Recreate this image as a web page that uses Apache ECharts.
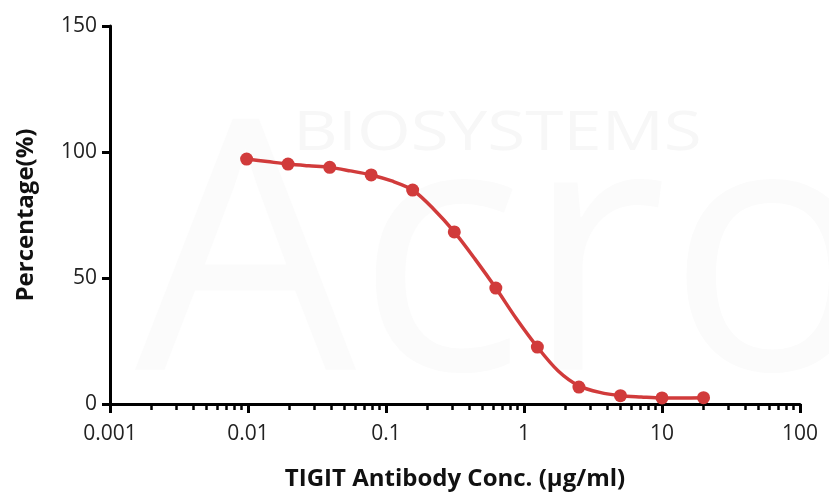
<!DOCTYPE html>
<html>
<head>
<meta charset="utf-8">
<script src="https://cdn.jsdelivr.net/npm/echarts@6/dist/echarts.min.js"></script>
<style>html,body{margin:0;padding:0;background:#fff;}#c{width:829px;height:496px;}</style>
</head>
<body>
<div id="c"></div>
<script>
// measured data points
const concentrations = [0.00977, 0.0195, 0.0391, 0.0781, 0.156, 0.3125, 0.625, 1.25, 2.5, 5, 10, 20];
const percentages = [97.2, 95.2, 93.9, 90.9, 84.9, 68.3, 46.0, 22.6, 6.7, 3.3, 2.4, 2.5];
// fitted curve
const curveConc = [0.00977, 0.0138, 0.0195, 0.0276, 0.0391, 0.0552, 0.0781, 0.110, 0.156, 0.221, 0.3125, 0.442, 0.625, 0.884, 1.25, 1.77, 2.5, 3.54, 5, 7.07, 10, 14.1, 20];
const curveVals = [97.2, 96.2, 95.2, 94.5, 93.9, 92.5, 90.9, 88.5, 84.9, 77.4, 68.3, 57.5, 46.0, 33.7, 22.6, 13.1, 7.2, 4.6, 3.3, 2.8, 2.4, 2.4, 2.5];
const xTickLabels = ['0.001', '0.01', '0.1', '1', '10', '100'];
const yTickLabels = ['0', '50', '100', '150'];

const chart = echarts.init(document.getElementById('c'), null, {renderer: 'canvas'});
const font = '"Open Sans", "Noto Sans", sans-serif';
const red = '#d13b3b';
chart.setOption({
  animation: false,
  backgroundColor: '#fff',
  graphic: [
    {type: 'text', x: 293, y: 108, scaleX: 1.28, silent: true, z: -10,
     style: {text: 'BIOSYSTEMS', font: '54px "Open Sans"', fill: '#f7f7f7'}},
    {type: 'text', x: 135, y: 95, silent: true, z: -10,
     style: {text: 'Acro', font: '350px "Open Sans"', fill: '#fbfbfb'}}
  ],
  grid: {left: 110, right: 29, top: 26, bottom: 92, containLabel: false},
  xAxis: {
    type: 'log', logBase: 10, min: 0.001, max: 100,
    name: 'TIGIT Antibody Conc. (μg/ml)', nameLocation: 'middle', nameGap: 63,
    nameTextStyle: {fontFamily: font, fontSize: 24, fontWeight: 'bold', color: '#111'},
    axisLine: {lineStyle: {color: '#000', width: 3}},
    axisTick: {show: true, inside: false, length: 9, lineStyle: {color: '#000', width: 3}},
    minorTick: {show: true, splitNumber: 9, length: 6, lineStyle: {color: '#000', width: 2.5}},
    splitLine: {show: false},
    axisLabel: {fontFamily: font, fontSize: 21, color: '#222', margin: 20,
      formatter: function (v) { const i = Math.round(Math.log10(v)) + 3; return xTickLabels[i] !== undefined ? xTickLabels[i] : ''; }}
  },
  yAxis: {
    type: 'value', min: 0, max: 150, interval: 50,
    name: 'Percentage(%)', nameLocation: 'middle', nameGap: 72, nameRotate: 90,
    nameTextStyle: {fontFamily: font, fontSize: 24, fontWeight: 'bold', color: '#111'},
    axisLine: {show: true, lineStyle: {color: '#000', width: 3}},
    axisTick: {show: true, inside: false, length: 8, lineStyle: {color: '#000', width: 3}},
    splitLine: {show: false},
    axisLabel: {fontFamily: font, fontSize: 21, color: '#222', margin: 13,
      formatter: function (v) { const i = Math.round(v / 50); return yTickLabels[i]; }}
  },
  series: [{
    name: 'fit',
    type: 'line',
    data: curveConc.map((c, i) => [c, curveVals[i]]),
    smooth: 0.3,
    showSymbol: false,
    symbol: 'none',
    lineStyle: {color: red, width: 3.5},
    z: 2
  }, {
    name: 'data',
    type: 'scatter',
    data: concentrations.map((c, i) => [c, percentages[i]]),
    symbol: 'circle', symbolSize: 13,
    itemStyle: {color: red, opacity: 1},
    z: 3
  }]
});
</script>
</body>
</html>
